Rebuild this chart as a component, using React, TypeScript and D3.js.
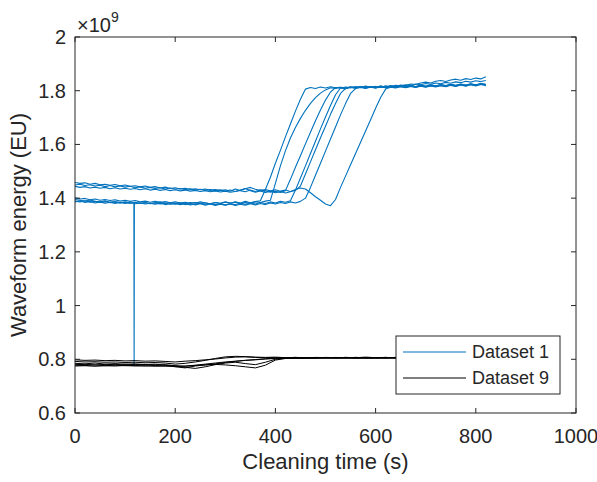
import React from "react";
import * as d3 from "d3";

// time grids (s)
const timeBlue: number[] = d3.range(0, 821, 10);
const timeBlack: number[] = d3.range(0, 821, 20);

// Dataset 1 runs (x1e9 EU), sampled every 10 s
const d1Run1 = [
  1.395,1.392,1.389,1.393,1.388,1.386,1.390,1.385,1.387,1.383,
  1.386,1.382,1.385,1.381,1.384,1.380,1.383,1.386,1.381,1.384,
  1.380,1.383,1.379,1.384,1.381,1.386,1.382,1.379,1.384,1.381,
  1.386,1.382,1.385,1.380,1.384,1.381,1.387,1.390,1.432,1.478,
  1.530,1.578,1.628,1.676,1.724,1.768,1.806,1.812,1.808,1.814,
  1.810,1.815,1.811,1.813,1.809,1.814,1.812,1.816,1.811,1.815,
  1.813,1.817,1.814,1.818,1.816,1.821,1.819,1.825,1.823,1.829,
  1.832,1.829,1.835,1.838,1.834,1.840,1.843,1.839,1.845,1.842,
  1.847,1.844,1.852,
];
const d1Run2 = [
  1.401,1.397,1.399,1.394,1.397,1.392,1.395,1.391,1.394,1.389,
  1.392,1.388,1.391,1.386,1.389,1.385,1.388,1.384,1.387,1.383,
  1.386,1.382,1.385,1.381,1.384,1.380,1.383,1.379,1.384,1.380,
  1.385,1.381,1.386,1.382,1.388,1.383,1.387,1.384,1.389,1.392,
  1.455,1.520,1.576,1.624,1.663,1.697,1.727,1.753,1.774,1.791,
  1.803,1.811,1.808,1.813,1.810,1.815,1.811,1.814,1.809,1.813,
  1.810,1.814,1.811,1.815,1.812,1.816,1.813,1.817,1.814,1.818,
  1.815,1.819,1.816,1.820,1.817,1.821,1.818,1.822,1.819,1.823,
  1.820,1.825,1.822,
];
const d1Run3 = [
  1.458,1.455,1.457,1.452,1.455,1.450,1.452,1.448,1.451,1.446,
  1.449,1.444,1.446,1.442,1.445,1.440,1.443,1.438,1.441,1.436,
  1.439,1.434,1.437,1.432,1.435,1.431,1.434,1.429,1.432,1.428,
  1.431,1.426,1.434,1.428,1.424,1.430,1.425,1.431,1.427,1.422,
  1.426,1.421,1.428,1.470,1.515,1.558,1.602,1.645,1.688,1.728,
  1.765,1.795,1.812,1.809,1.814,1.811,1.816,1.812,1.817,1.813,
  1.816,1.812,1.818,1.815,1.820,1.817,1.822,1.819,1.825,1.822,
  1.827,1.824,1.829,1.826,1.831,1.828,1.833,1.830,1.835,1.832,
  1.837,1.834,1.838,
];
const d1Run4 = [
  1.389,1.386,1.390,1.385,1.388,1.384,1.387,1.383,1.386,1.382,
  1.385,1.381,1.384,1.380,1.383,1.379,1.382,1.378,1.381,1.377,
  1.380,1.376,1.379,1.375,1.378,1.381,1.377,1.380,1.376,1.379,
  1.375,1.379,1.376,1.381,1.377,1.382,1.378,1.384,1.380,1.386,
  1.382,1.388,1.385,1.390,1.430,1.475,1.520,1.566,1.612,1.658,
  1.702,1.745,1.785,1.810,1.807,1.812,1.809,1.814,1.810,1.815,
  1.811,1.816,1.812,1.817,1.813,1.818,1.814,1.819,1.815,1.820,
  1.816,1.821,1.817,1.822,1.818,1.823,1.819,1.824,1.820,1.825,
  1.821,1.826,1.823,
];
const d1Run5 = [
  1.449,1.452,1.447,1.450,1.445,1.448,1.443,1.447,1.442,1.445,
  1.441,1.444,1.439,1.442,1.437,1.440,1.436,1.439,1.434,1.438,
  1.433,1.436,1.431,1.435,1.430,1.433,1.429,1.432,1.427,1.431,
  1.426,1.430,1.425,1.429,1.435,1.440,1.433,1.428,1.432,1.427,
  1.431,1.426,1.430,1.425,1.429,1.445,1.490,1.535,1.580,1.625,
  1.668,1.712,1.752,1.790,1.809,1.813,1.810,1.815,1.811,1.816,
  1.812,1.817,1.813,1.818,1.814,1.819,1.815,1.820,1.816,1.821,
  1.817,1.822,1.818,1.823,1.819,1.824,1.820,1.825,1.821,1.826,
  1.822,1.827,1.824,
];
const d1Run6 = [
  1.386,1.390,1.384,1.388,1.382,1.386,1.381,1.385,1.380,1.384,
  1.380,1.383,1.379,1.382,1.378,1.381,1.377,1.381,1.376,1.380,
  1.377,1.381,1.376,1.380,1.375,1.379,1.374,1.378,1.373,1.377,
  1.374,1.378,1.373,1.377,1.374,1.379,1.375,1.380,1.376,1.382,
  1.378,1.384,1.380,1.386,1.382,1.388,1.400,1.440,1.485,1.530,
  1.575,1.620,1.665,1.710,1.752,1.790,1.808,1.812,1.809,1.814,
  1.810,1.815,1.811,1.816,1.812,1.817,1.813,1.818,1.814,1.819,
  1.815,1.820,1.816,1.821,1.817,1.822,1.818,1.823,1.819,1.824,
  1.820,1.825,1.821,
];
// one-sample glitch in run 6 (time s, value)
const d1Run6GlitchTime = [117.5, 118, 118.5];
const d1Run6GlitchValue = [1.381, 0.781, 1.380];
const d1Run7 = [
  1.444,1.440,1.443,1.438,1.441,1.437,1.440,1.435,1.439,1.434,
  1.437,1.433,1.436,1.431,1.435,1.430,1.433,1.429,1.432,1.428,
  1.431,1.427,1.430,1.426,1.429,1.425,1.428,1.424,1.427,1.423,
  1.426,1.422,1.425,1.430,1.436,1.428,1.422,1.427,1.421,1.426,
  1.420,1.425,1.419,1.424,1.432,1.438,1.434,1.420,1.405,1.392,
  1.378,1.372,1.395,1.440,1.482,1.524,1.566,1.608,1.650,1.692,
  1.735,1.775,1.806,1.813,1.810,1.815,1.811,1.816,1.812,1.817,
  1.813,1.818,1.814,1.819,1.815,1.820,1.816,1.821,1.817,1.822,
  1.818,1.823,1.819,
];

// Dataset 9 runs (x1e9 EU), sampled every 20 s
const d9Run1 = [
  0.798,0.796,0.797,0.795,0.796,0.794,0.795,0.793,0.794,0.792,
  0.790,0.793,0.795,0.798,0.801,0.805,0.808,0.809,0.807,0.806,
  0.806,0.805,0.807,0.806,0.805,0.807,0.806,0.805,0.807,0.806,
  0.806,0.805,0.807,0.806,0.805,0.807,0.806,0.805,0.807,0.806,
  0.805,0.807,
];
const d9Run2 = [
  0.785,0.783,0.786,0.782,0.784,0.781,0.783,0.780,0.782,0.778,
  0.772,0.768,0.775,0.779,0.783,0.788,0.792,0.796,0.799,0.802,
  0.804,0.805,0.803,0.805,0.804,0.806,0.804,0.805,0.803,0.805,
  0.804,0.806,0.804,0.805,0.803,0.805,0.804,0.806,0.804,0.805,
  0.804,0.806,
];
const d9Run3 = [
  0.778,0.777,0.779,0.776,0.778,0.776,0.777,0.775,0.777,0.775,
  0.776,0.774,0.777,0.779,0.781,0.779,0.776,0.772,0.768,0.778,
  0.797,0.803,0.805,0.804,0.806,0.805,0.807,0.805,0.806,0.804,
  0.806,0.805,0.807,0.805,0.806,0.804,0.806,0.805,0.807,0.805,
  0.806,0.805,
];
const d9Run4 = [
  0.775,0.776,0.774,0.776,0.775,0.777,0.775,0.776,0.774,0.775,
  0.773,0.775,0.778,0.782,0.786,0.790,0.793,0.796,0.798,0.801,
  0.803,0.804,0.806,0.805,0.807,0.806,0.805,0.807,0.806,0.808,
  0.806,0.807,0.805,0.807,0.806,0.808,0.806,0.807,0.805,0.807,
  0.806,0.808,
];
const d9Run5 = [
  0.792,0.790,0.791,0.789,0.790,0.788,0.789,0.787,0.788,0.786,
  0.782,0.785,0.790,0.796,0.803,0.809,0.811,0.810,0.808,0.807,
  0.808,0.806,0.807,0.805,0.806,0.804,0.806,0.805,0.807,0.805,
  0.806,0.804,0.806,0.805,0.807,0.805,0.806,0.804,0.806,0.805,
  0.806,0.804,
];
const d9Run6 = [
  0.780,0.781,0.779,0.781,0.780,0.782,0.780,0.781,0.779,0.780,
  0.776,0.770,0.766,0.772,0.780,0.786,0.789,0.784,0.780,0.789,
  0.800,0.804,0.803,0.805,0.804,0.806,0.805,0.807,0.805,0.806,
  0.805,0.807,0.805,0.806,0.804,0.806,0.805,0.807,0.805,0.806,
  0.805,0.807,
];

const xTicks = [0, 200, 400, 600, 800, 1000];
const yTicks = [0.6, 0.8, 1, 1.2, 1.4, 1.6, 1.8, 2];
const legendLabels = ["Dataset 1", "Dataset 9"];

const W = 597;
const H = 482;
const M = { left: 75, top: 37, right: 576, bottom: 413 };
const BLUE = "#0072BD";
const BLACK = "#000000";
const AX = "#262626";
const FONT = "'Liberation Sans', Arial, Helvetica, sans-serif";

type Pt = [number, number];

function zip(t: number[], v: number[]): Pt[] {
  return v.map((val, i) => [t[i], val] as Pt);
}

export default function App() {
  const x = d3.scaleLinear().domain([0, 1000]).range([M.left, M.right]);
  const y = d3.scaleLinear().domain([0.6, 2]).range([M.bottom, M.top]);
  const line = d3
    .line<Pt>()
    .x((d) => x(d[0]))
    .y((d) => y(d[1]));

  const run6 = zip(timeBlue, d1Run6)
    .concat(zip(d1Run6GlitchTime, d1Run6GlitchValue))
    .sort((a, b) => a[0] - b[0]);

  const blueSeries: Pt[][] = [
    zip(timeBlue, d1Run1),
    zip(timeBlue, d1Run2),
    zip(timeBlue, d1Run3),
    zip(timeBlue, d1Run4),
    zip(timeBlue, d1Run5),
    run6,
    zip(timeBlue, d1Run7),
  ];
  const blackSeries: Pt[][] = [d9Run1, d9Run2, d9Run3, d9Run4, d9Run5, d9Run6].map((v) =>
    zip(timeBlack, v)
  );

  const tickLen = 5;
  const legend = { x0: 396, y0: 336, x1: 560, y1: 394 };

  return (
    <svg
      width={W}
      height={H}
      style={{ position: "absolute", left: 0, top: 0, background: "#fff" }}
      fontFamily={FONT}
    >
      <rect x={0} y={0} width={W} height={H} fill="#fff" />
      <defs>
        <clipPath id="plotclip">
          <rect x={M.left} y={M.top} width={M.right - M.left} height={M.bottom - M.top} />
        </clipPath>
      </defs>
      <g clipPath="url(#plotclip)" fill="none">
        {blueSeries.map((s, i) => (
          <path key={"b" + i} d={line(s) || ""} stroke={BLUE} strokeWidth={1.1} strokeLinejoin="round" />
        ))}
        {blackSeries.map((s, i) => (
          <path key={"k" + i} d={line(s) || ""} stroke={BLACK} strokeWidth={1} strokeLinejoin="round" />
        ))}
      </g>

      {/* axes box */}
      <rect
        x={M.left}
        y={M.top}
        width={M.right - M.left}
        height={M.bottom - M.top}
        fill="none"
        stroke={AX}
        strokeWidth={1}
      />
      {/* x ticks */}
      {xTicks.map((t) => (
        <g key={"xt" + t}>
          <line x1={x(t)} x2={x(t)} y1={M.bottom} y2={M.bottom - tickLen} stroke={AX} />
          <line x1={x(t)} x2={x(t)} y1={M.top} y2={M.top + tickLen} stroke={AX} />
          <text x={x(t)} y={443} textAnchor="middle" fontSize={20} fill={AX}>
            {t}
          </text>
        </g>
      ))}
      {/* y ticks */}
      {yTicks.map((t) => (
        <g key={"yt" + t}>
          <line x1={M.left} x2={M.left + tickLen} y1={y(t)} y2={y(t)} stroke={AX} />
          <line x1={M.right} x2={M.right - tickLen} y1={y(t)} y2={y(t)} stroke={AX} />
          <text x={66} y={y(t) + 7} textAnchor="end" fontSize={20} fill={AX}>
            {String(t)}
          </text>
        </g>
      ))}
      {/* exponent */}
      <text x={77} y={32} fontSize={20} fill={AX}>
        ×10
        <tspan dy={-10} fontSize={14}>
          9
        </tspan>
      </text>
      {/* axis labels */}
      <text x={(M.left + M.right) / 2} y={469} textAnchor="middle" fontSize={22} fill={AX}>
        Cleaning time (s)
      </text>
      <text
        transform={`translate(26, ${(M.top + M.bottom) / 2}) rotate(-90)`}
        textAnchor="middle"
        fontSize={22}
        fill={AX}
      >
        Waveform energy (EU)
      </text>

      {/* legend */}
      <rect
        x={legend.x0}
        y={legend.y0}
        width={legend.x1 - legend.x0}
        height={legend.y1 - legend.y0}
        fill="#fff"
        stroke={AX}
        strokeWidth={1}
      />
      {legendLabels.map((lab, i) => {
        const ly = 352 + i * 26;
        return (
          <g key={lab}>
            <line x1={403} x2={466} y1={ly} y2={ly} stroke={i === 0 ? BLUE : BLACK} strokeWidth={1} />
            <text x={472} y={ly + 6} fontSize={18} fill={AX}>
              {lab}
            </text>
          </g>
        );
      })}
    </svg>
  );
}
